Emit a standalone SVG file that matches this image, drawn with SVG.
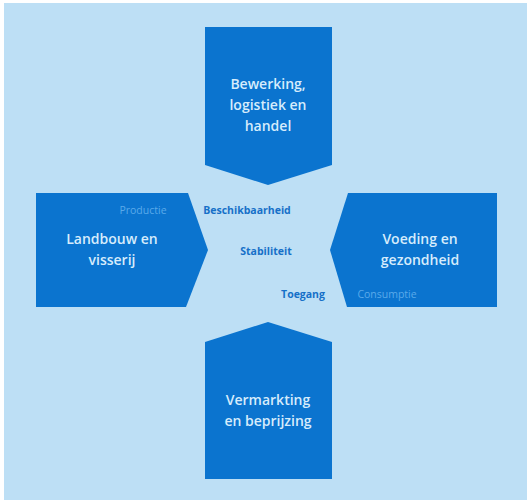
<svg xmlns="http://www.w3.org/2000/svg" width="527" height="500" viewBox="0 0 527 500">
<style>
.shape{fill:#0b74cf}
.main{font-family:"Open Sans","Liberation Sans",sans-serif;font-weight:600;font-size:14px;fill:#d6ecfc;text-anchor:middle}
.lbl{font-family:"Open Sans","Liberation Sans",sans-serif;font-weight:700;font-size:10.5px;fill:#1670c8;text-anchor:middle}
.faint{font-family:"Open Sans","Liberation Sans",sans-serif;font-size:10.5px;fill:#5aaaea;text-anchor:middle}
</style>
<rect x="0" y="0" width="527" height="500" fill="#ffffff"/>
<rect x="4" y="3" width="523" height="497" fill="#bddff5"/>
<g id="node-top">
<polygon class="shape" points="205,27 332,27 332,165 268,185 205,165"/>
<text class="main" x="268" y="89">Bewerking,</text>
<text class="main" x="268" y="110">logistiek en</text>
<text class="main" x="268" y="131">handel</text>
</g>
<g id="node-left">
<polygon class="shape" points="36,193 188,193 208,250 186,307 36,307"/>
<text class="main" x="112" y="244">Landbouw en</text>
<text class="main" x="112" y="265">visserij</text>
<text class="faint" x="143" y="214">Productie</text>
</g>
<g id="node-right">
<polygon class="shape" points="348,193 497,193 497,307 347,307 330,250"/>
<text class="main" x="420" y="244">Voeding en</text>
<text class="main" x="420" y="265">gezondheid</text>
<text class="faint" x="387" y="298">Consumptie</text>
</g>
<g id="node-bottom">
<polygon class="shape" points="205,342 268,322 332,342 332,479 205,479"/>
<text class="main" x="268" y="405">Vermarkting</text>
<text class="main" x="268" y="426">en beprijzing</text>
</g>
<g id="connectors"></g>
<g id="labels">
<text class="lbl" x="247" y="214">Beschikbaarheid</text>
<text class="lbl" x="266" y="255">Stabiliteit</text>
<text class="lbl" x="303" y="298">Toegang</text>
</g>
</svg>
